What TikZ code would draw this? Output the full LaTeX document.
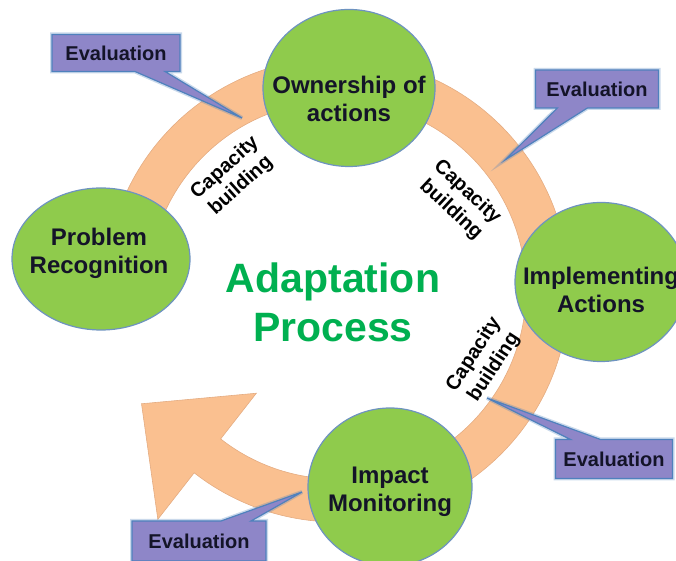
\documentclass[tikz,border=0pt]{standalone}
\usepackage{fontspec}
\setmainfont{Liberation Sans}
\usepackage{tikz}
\usetikzlibrary{shapes.geometric,shapes.callouts,calc}

\definecolor{leaf}{RGB}{143,203,76}
\definecolor{blobline}{RGB}{110,147,192}
\definecolor{peach}{RGB}{250,192,144}
\definecolor{peachline}{RGB}{228,172,130}
\definecolor{lilac}{RGB}{142,134,200}
\definecolor{boxline}{RGB}{79,129,189}
\definecolor{ink}{RGB}{20,20,40}
\definecolor{titlegreen}{RGB}{0,176,80}

\begin{document}
\begin{tikzpicture}[x=1pt,y=1pt,
    blob/.style={ellipse, draw=blobline, line width=1.2pt, fill=leaf, inner sep=0pt},
    blobtext/.style={font=\fontsize{24}{28}\selectfont\bfseries, align=center, text=ink},
    capa/.style={font=\fontsize{20}{24}\selectfont\bfseries, align=center, text=black},
    evalbox/.style={rectangle callout, fill=lilac, draw=boxline, line width=1.2pt,
      preaction={draw=boxline, line width=4pt, opacity=.3},
      callout pointer width=30pt, inner sep=0pt,
      font=\fontsize{20}{24}\selectfont\bfseries, text=ink}]
  \useasboundingbox (0,0) rectangle (676,561);

  % ring with arrow head at its end
  \coordinate (ctr) at (337,271);
  \filldraw[fill=peach, draw=peachline, line width=.6pt]
    ($(ctr)+(172:232)$) arc[start angle=172, end angle=-128, radius=232]
    -- ($(ctr)+(-128:291)$) -- ($(ctr)+(-128:210)+(142:84)$) -- ($(ctr)+(-128:131)$)
    -- ($(ctr)+(-128:189)$) arc[start angle=-128, end angle=172, radius=189] -- cycle;

  % the four steps
  \node[blob, minimum width=172pt, minimum height=157pt] (own) at (349,473) {};
  \node[blob, minimum width=178pt, minimum height=142pt] (prob) at (101,302) {};
  \node[blob, minimum width=172pt, minimum height=159pt] (impl) at (601,279) {};
  \node[blob, minimum width=164pt, minimum height=158pt] (imp) at (390,74) {};

  \node[blobtext] at ($(own)+(0,-11)$) {Ownership of\\actions};
  \node[blobtext] at ($(prob)+(-2,6)$) {Problem\\Recognition};
  \node[blobtext] at ($(impl)+(0,-8)$) {Implementing\\Actions};
  \node[blobtext] at ($(imp)+(0,-5)$) {Impact\\Monitoring};

  \node[font=\fontsize{41}{49}\selectfont\bfseries, align=center, text=titlegreen]
    (title) at (333,258.5) {Adaptation\\Process};

  \node[capa, rotate=42] (cb1) at (233,384) {Capacity\\building};
  \node[capa, rotate=-43] (cb2) at (459,360) {Capacity\\building};
  \node[capa, rotate=57] (cb3) at (484,200) {Capacity\\building};

  % evaluation callouts
  \coordinate (t1) at (242,443);
  \coordinate (t2) at (505,401);
  \coordinate (t3) at (487,163);
  \coordinate (t4) at (302,69);
  \node[evalbox, minimum width=128pt, minimum height=37pt, callout absolute pointer={(t1)}]
    (ev1) at (116,508) {Evaluation};
  \node[evalbox, minimum width=123pt, minimum height=38pt, callout absolute pointer={(t2)}]
    (ev2) at (597,472) {Evaluation};
  \node[evalbox, minimum width=117pt, minimum height=39pt, callout absolute pointer={(t3)}]
    (ev3) at (614,102) {Evaluation};
  \node[evalbox, minimum width=134pt, minimum height=40pt, callout absolute pointer={(t4)}]
    (ev4) at (199,20) {Evaluation};
\end{tikzpicture}
\end{document}
